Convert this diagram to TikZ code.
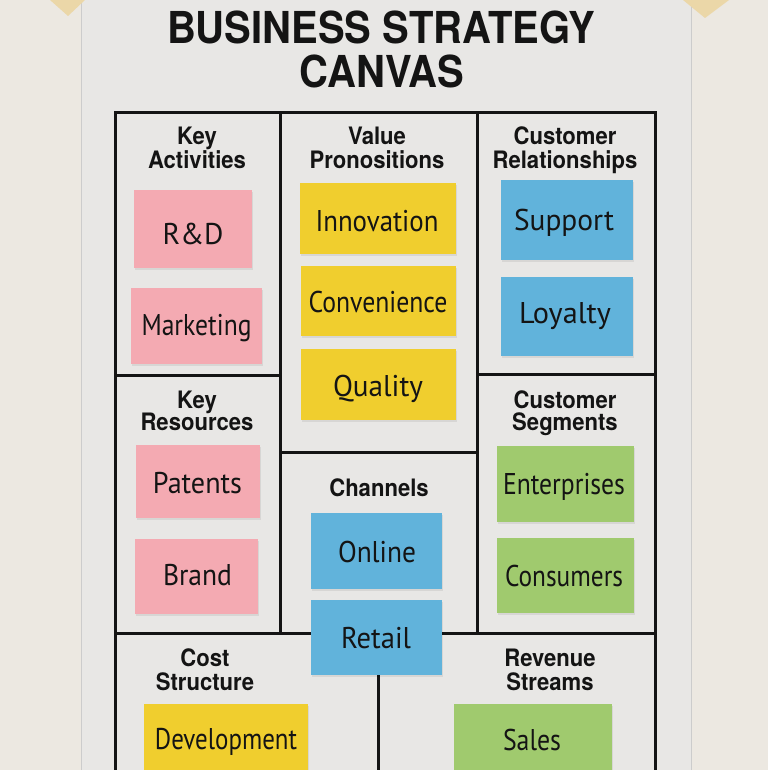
\documentclass[tikz,border=0pt]{standalone}
\usepackage{fontspec}
\usepackage{graphicx}
\setmainfont{TeX Gyre Heros}
\newfontfamily\notefont{PT Sans}
\definecolor{wall}{HTML}{ECE8E1}
\definecolor{poster}{HTML}{E8E7E5}
\definecolor{tape}{HTML}{EBD7A8}
\definecolor{ink}{HTML}{141414}
\definecolor{npink}{HTML}{F4AAB2}
\definecolor{nyellow}{HTML}{F0CE2E}
\definecolor{nblue}{HTML}{61B3DB}
\definecolor{ngreen}{HTML}{A0CA6E}
\newcommand\notew[2]{\resizebox{#1pt}{\height}{#2}}
\newcommand\hdl[1]{\scalebox{0.92}[1]{#1}}
\newcommand\ttl[1]{\scalebox{1}[1.1]{#1}}
\begin{document}
\begin{tikzpicture}[x=1pt,y=-1pt,
  gridline/.style={line width=3pt,draw=ink},
  title/.style={anchor=base,inner sep=0pt,text=ink,font=\bfseries\fontsize{40}{44}\selectfont},
  hd/.style={anchor=base,inner sep=0pt,text=ink,font=\bfseries\fontsize{24}{26}\selectfont},
  note/.style={minimum width=#1pt,inner sep=0pt,draw=none,
    preaction={fill=black,opacity=0.07,transform canvas={xshift=1pt,yshift=-1.5pt}}},
  ntext/.style={anchor=base,inner sep=0pt,text=ink,font=\notefont\fontsize{30}{32}\selectfont}]
\useasboundingbox (0,0) rectangle (768,770);
\fill[wall] (0,0) rectangle (768,770);
% poster
\fill[poster] (81,0) rectangle (691,770);
\draw[black!20,line width=0.8pt] (81,0) -- (81,770);
\draw[black!20,line width=0.8pt] (691,0) -- (691,770);
% tape
\fill[tape] (50,0) -- (85,0) -- (68,16) -- cycle;
\fill[tape] (683,0) -- (729,0) -- (705,18) -- cycle;
% title
\node[title] (t1) at (381,44) {\ttl{BUSINESS STRATEGY}};
\node[title] (t2) at (382,88) {\ttl{CANVAS}};
% grid
\draw[gridline] (115,770) -- (115,113) -- (655,113) -- (655,770);
\draw[gridline] (280,113) -- (280,633);
\draw[gridline] (477,113) -- (477,633);
\draw[gridline] (115,375) -- (280,375);
\draw[gridline] (280,452) -- (477,452);
\draw[gridline] (477,374) -- (655,374);
\draw[gridline] (115,633) -- (655,633);
\draw[gridline] (378,633) -- (378,770);
% headers
\node[hd] (ka1) at (197,145) {\hdl{Key}};
\node[hd] (ka2) at (197,168) {\hdl{Activities}};
\node[hd] (vp1) at (377,145) {\hdl{Value}};
\node[hd] (vp2) at (377,168) {\hdl{Pronositions}};
\node[hd] (cr1) at (565,145) {\hdl{Customer}};
\node[hd] (cr2) at (565,168) {\hdl{Relationships}};
\node[hd] (kr1) at (197,408) {\hdl{Key}};
\node[hd] (kr2) at (197,430) {\hdl{Resources}};
\node[hd] (cs1) at (565,408) {\hdl{Customer}};
\node[hd] (cs2) at (565,430) {\hdl{Segments}};
\node[hd] (ch1) at (379,496) {\hdl{Channels}};
\node[hd] (co1) at (205,666) {\hdl{Cost}};
\node[hd] (co2) at (205,690) {\hdl{Structure}};
\node[hd] (rv1) at (550,666) {\hdl{Revenue}};
\node[hd] (rv2) at (550,690) {\hdl{Streams}};
% notes
\node[note=118,minimum height=78pt,fill=npink] (rd) at (193,229) {};
\node[ntext] (rdt) at (193,244) {\notew{61}{R\&D}};
\node[note=131,minimum height=76pt,fill=npink] (mk) at (196.5,326) {};
\node[ntext] (mkt) at (196.5,335) {\notew{110}{Marketing}};
\node[note=156,minimum height=71pt,fill=nyellow] (inn) at (378,218.5) {};
\node[ntext] (innt) at (377,231) {\notew{123}{Innovation}};
\node[note=155,minimum height=70pt,fill=nyellow] (conv) at (378.5,301) {};
\node[ntext] (convt) at (378,312) {\notew{139}{Convenience}};
\node[note=155,minimum height=71pt,fill=nyellow] (qual) at (378.5,384.5) {};
\node[ntext] (qualt) at (378,396) {\notew{90}{Quality}};
\node[note=132,minimum height=80pt,fill=nblue] (sup) at (567,220) {};
\node[ntext] (supt) at (564,230) {\notew{100}{Support}};
\node[note=132,minimum height=79pt,fill=nblue] (loy) at (567,316.5) {};
\node[ntext] (loyt) at (565,323) {\notew{92}{Loyalty}};
\node[note=124,minimum height=73pt,fill=npink] (pat) at (198,481.5) {};
\node[ntext] (patt) at (197.5,493) {\notew{89}{Patents}};
\node[note=123,minimum height=75pt,fill=npink] (br) at (196.5,576.5) {};
\node[ntext] (brt) at (197.5,585) {\notew{69}{Brand}};
\node[note=137,minimum height=76pt,fill=ngreen] (ent) at (565.5,484) {};
\node[ntext] (entt) at (564,494) {\notew{122}{Enterprises}};
\node[note=137,minimum height=75pt,fill=ngreen] (cons) at (565.5,575.5) {};
\node[ntext] (const) at (564,586) {\notew{118}{Consumers}};
\node[note=131,minimum height=76pt,fill=nblue] (onl) at (376.5,551) {};
\node[ntext] (onlt) at (377,562) {\notew{78}{Online}};
\node[note=131,minimum height=75pt,fill=nblue] (ret) at (376.5,637.5) {};
\node[ntext] (rett) at (376,648) {\notew{70}{Retail}};
\node[note=164,minimum height=74pt,fill=nyellow] (dev) at (226,741) {};
\node[ntext] (devt) at (226,749) {\notew{142}{Development}};
\node[note=158,minimum height=74pt,fill=ngreen] (sal) at (533,741) {};
\node[ntext] (salt) at (532,750) {\notew{58}{Sales}};
\end{tikzpicture}
\end{document}
